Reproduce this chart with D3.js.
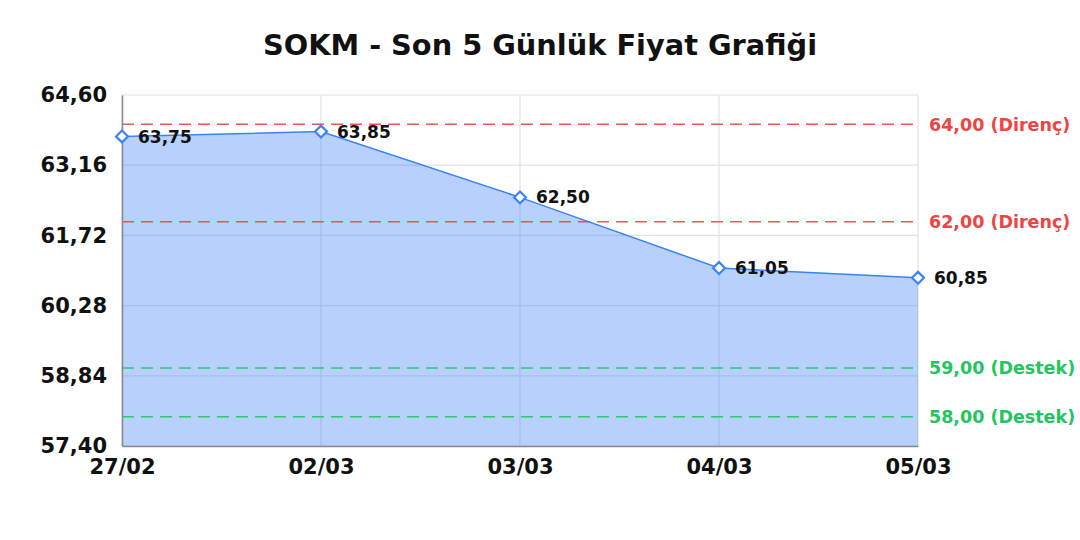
<!DOCTYPE html>
<html><head><meta charset="utf-8">
<script src="https://cdn.jsdelivr.net/npm/d3@7"></script>
<style>
html,body{margin:0;padding:0;background:#fff;}
svg{display:block;font-family:"DejaVu Sans",sans-serif;}
</style></head>
<body><svg id="c" width="1080" height="540"></svg>
<script>
const titleText = "SOKM - Son 5 Günlük Fiyat Grafiği";
const dates = ["27/02","02/03","03/03","04/03","05/03"];
const prices = [63.75, 63.85, 62.50, 61.05, 60.85];
const yTicks = [57.40, 58.84, 60.28, 61.72, 63.16, 64.60];
const levelValues = [64.00, 62.00, 59.00, 58.00];
const levelNames = ["Direnç","Direnç","Destek","Destek"];
const levelKinds = ["res","res","sup","sup"];

const svg = d3.select("#c");
const W = 1080, H = 540;
const m = {left:122, right:162, top:95, bottom:94};
const iw = W - m.left - m.right, ih = H - m.top - m.bottom;
const fmt = v => v.toFixed(2).replace(".", ",");

const x = d3.scalePoint().domain(dates).range([0, iw]);
const y = d3.scaleLinear().domain([yTicks[0], yTicks[yTicks.length-1]]).range([ih, 0]);

svg.append("text").attr("x", W/2).attr("y", 55).attr("text-anchor","middle")
  .attr("font-size", 28.8).attr("font-weight","bold").attr("fill","#111").text(titleText);

const g = svg.append("g").attr("transform", `translate(${m.left},${m.top})`);

// grid
g.append("g").selectAll("line").data(yTicks).join("line")
  .attr("x1",0).attr("x2",iw).attr("y1",d=>y(d)).attr("y2",d=>y(d))
  .attr("stroke","#e2e2e2").attr("stroke-width",1.2);
g.append("g").selectAll("line").data(dates).join("line")
  .attr("x1",d=>x(d)).attr("x2",d=>x(d)).attr("y1",0).attr("y2",ih)
  .attr("stroke","#e2e2e2").attr("stroke-width",1.2);

// area
const data = dates.map((d,i)=>({d, v:prices[i]}));
const curve = d3.curveLinear;
g.append("path").datum(data)
  .attr("d", d3.area().x(p=>x(p.d)).y0(ih).y1(p=>y(p.v)).curve(curve))
  .attr("fill","rgba(59,130,246,0.37)");

// level lines
const colorOf = k => k==="res" ? "#ef4444" : "#22c55e";
levelValues.forEach((v,i)=>{
  g.append("line").attr("x1",0).attr("x2",iw).attr("y1",y(v)).attr("y2",y(v))
    .attr("stroke", colorOf(levelKinds[i])).attr("stroke-opacity",0.9).attr("stroke-width",1.5).attr("stroke-dasharray","12,7");
  g.append("text").attr("x", iw+11).attr("y", y(v)).attr("dy","0.36em")
    .attr("font-size",17.5).attr("font-weight","bold").attr("fill",colorOf(levelKinds[i]))
    .text(`${fmt(v)} (${levelNames[i]})`);
});

// line
g.append("path").datum(data)
  .attr("d", d3.line().x(p=>x(p.d)).y(p=>y(p.v)).curve(curve))
  .attr("fill","none").attr("stroke","#3b82f6").attr("stroke-width",1.5);

// axes
const yAxis = g.append("g").call(d3.axisLeft(y).tickValues(yTicks).tickFormat(fmt).tickSize(0).tickPadding(15));
yAxis.select(".domain").attr("stroke","#888").attr("stroke-width",1.5);
yAxis.selectAll("text").attr("font-size",21).attr("font-weight","bold").attr("fill","#111")
  .attr("font-family","DejaVu Sans");
const xAxis = g.append("g").attr("transform",`translate(0,${ih})`).call(d3.axisBottom(x).tickSize(0).tickPadding(13));
xAxis.select(".domain").attr("stroke","#888").attr("stroke-width",1.5);
xAxis.selectAll("text").attr("font-size",21).attr("font-weight","bold").attr("fill","#111")
  .attr("font-family","DejaVu Sans");

// markers
const sym = d3.symbol().type(d3.symbolDiamond2).size(90);
g.append("g").selectAll("path").data(data).join("path")
  .attr("transform",p=>`translate(${x(p.d)},${y(p.v)})`)
  .attr("d", sym).attr("fill","#fff").attr("stroke","#3b82f6").attr("stroke-width",2.2);

// data labels
g.append("g").selectAll("text").data(data).join("text")
  .attr("x",p=>x(p.d)+16).attr("y",p=>y(p.v)).attr("dy","0.36em")
  .attr("font-size",17).attr("font-weight","bold").attr("fill","#111")
  .text(p=>fmt(p.v));
</script></body></html>
